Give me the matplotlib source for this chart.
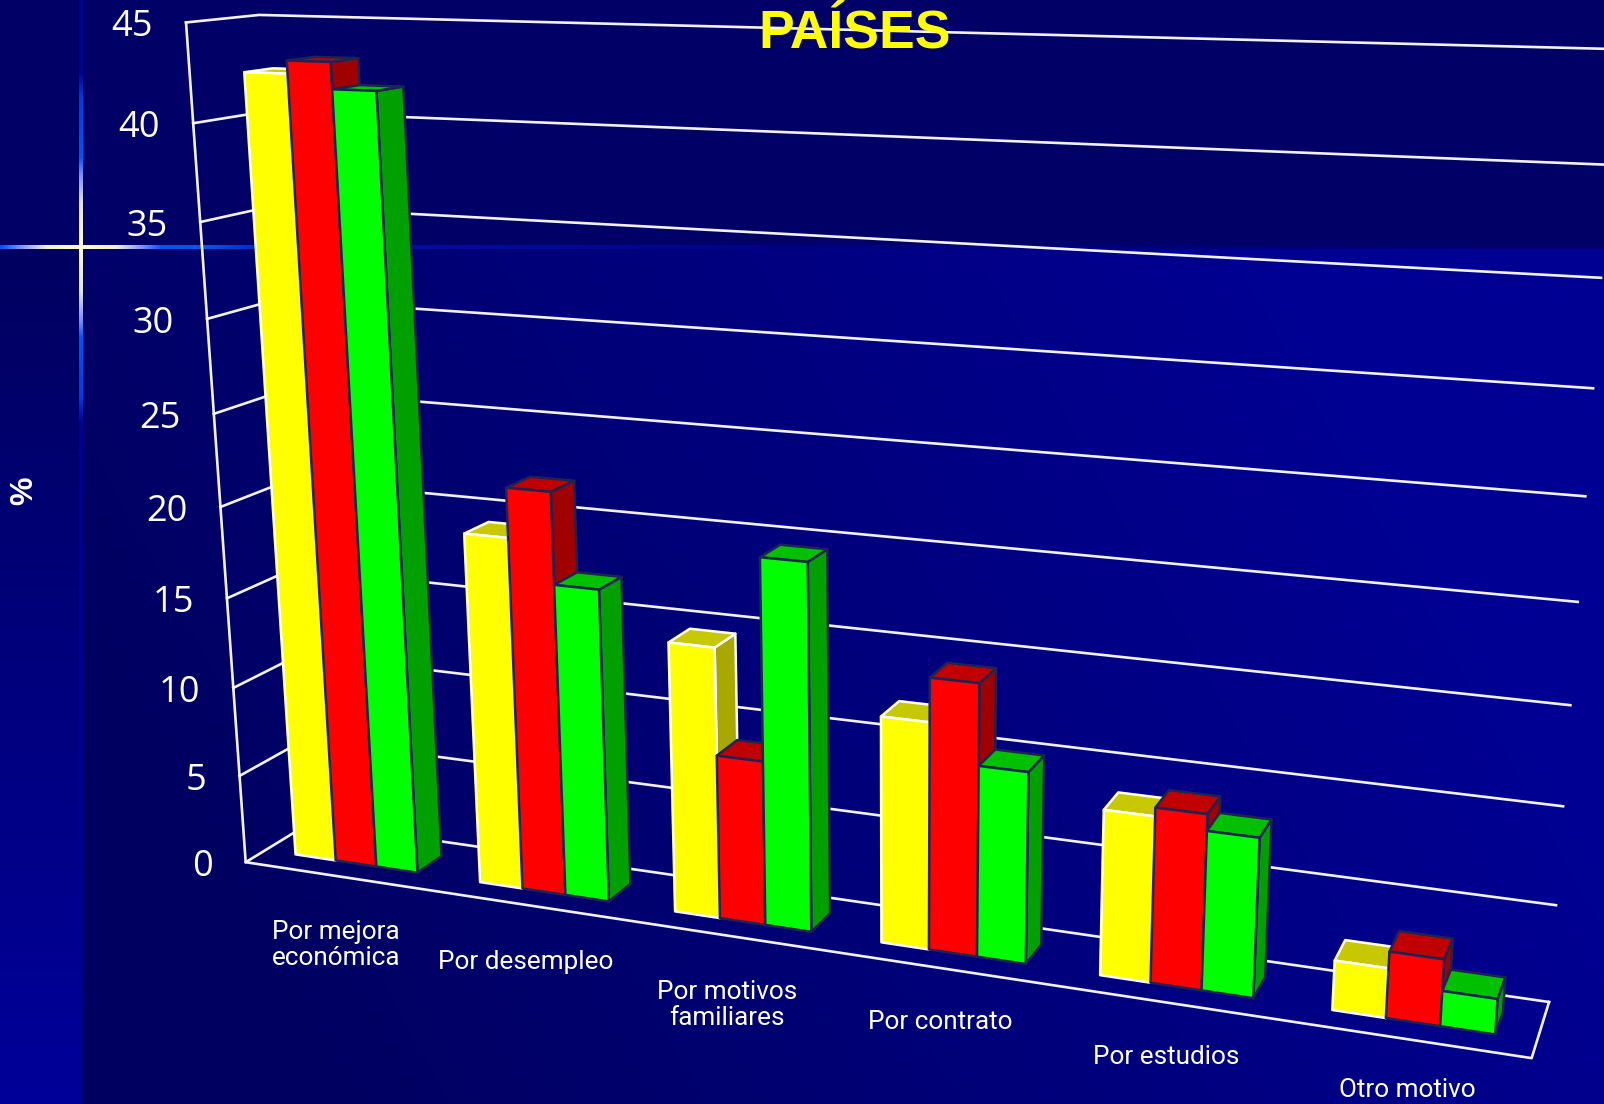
import numpy as np
import matplotlib
matplotlib.use("Agg")
import matplotlib.pyplot as plt
from matplotlib.patches import Polygon

categories = ["Por mejora\neconómica", "Por desempleo", "Por motivos\nfamiliares",
              "Por contrato", "Por estudios", "Otro motivo"]
yellow_vals = [42.45, 19.3, 14.65, 12.05, 8.65, 2.55]
red_vals = [43.1, 21.95, 8.9, 14.35, 9.1, 3.4]
green_vals = [41.75, 17.05, 19.6, 10.1, 8.25, 1.8]
ticks = [0, 5, 10, 15, 20, 25, 30, 35, 40, 45]

# where the box of the 3d chart sits in the picture (x cat, value, depth) -> pixel
front_left_px = [(245, 863), (240, 776), (233, 688), (227, 597), (221, 506),
                 (213, 414), (207, 319), (201, 222), (194, 124), (185, 23)]
back_right_px = [(1548, 1001), (1557, 905), (1564, 806), (1570.5, 706), (1577.5, 603),
                 (1584, 496), (1593, 389), (1601, 279), (1609, 165), (1618, 47)]
label_px = [(336, 945), (526, 962), (727, 1005), (940, 1022), (1166, 1057), (1407, 1090)]


def fit_camera():
    world = []
    img = []
    for t, p in zip(ticks, front_left_px):
        world.append((0, t, 0)); img.append(p)
    for t, p in zip(ticks, back_right_px):
        world.append((6, t, 1)); img.append(p)
    world += [(0, 0, 1), (0, 5, 1), (0, 40, 1), (0, 45, 1), (6, 0, 0)]
    img += [(312, 823), (304, 739), (266, 111), (259, 15), (1532, 1058)]
    rows = []
    for (x, v, z), (u, w) in zip(world, img):
        a = [x / 6, v / 45, z, 1]
        rows.append(a + [0, 0, 0, 0] + [-u / 1000 * c for c in a])
        rows.append([0, 0, 0, 0] + a + [-w / 1000 * c for c in a])
    vt = np.linalg.svd(np.array(rows))[2]
    return vt[-1].reshape(3, 4)


cam = fit_camera()


def pr(x, v, z):
    p = cam @ np.array([x / 6, v / 45, z, 1])
    return (1000 * p[0] / p[2], 1000 * p[1] / p[2])


# background
W, H = 1604, 1104
xx, yy = np.meshgrid(np.arange(W), np.arange(H))
blue = np.clip(106.4 + 0.0353 * xx - 0.0193 * yy, 96, 146)
strip = 0x60 + (yy - 248) * (0x9a - 0x60) / (H - 248)
blue = np.where(xx < 79, strip, blue)
blue = np.where(yy < 249, 0x66, blue)
bg = np.zeros((H, W, 3))
bg[..., 2] = blue / 255


def glow(d, stops):
    ds = [s[0] for s in stops]
    return np.array([np.interp(d, ds, [s[1][i] for s in stops]) for i in range(3)]).T / 255


stops_h = [(0, (255, 255, 205)), (35, (240, 240, 215)), (62, (120, 140, 255)), (80, (0, 85, 240)),
           (125, (0, 85, 240)), (200, (0, 20, 170)), (700, (0, 0, 135)), (1523, (0, 0, 110))]
stops_v = [(0, (255, 255, 205)), (45, (225, 225, 225)), (75, (110, 135, 255)), (90, (0, 85, 240)),
           (150, (0, 60, 220)), (175, (0, 0, 150)), (2000, (0, 0, 145))]
bg[245:249, :] = glow(np.abs(np.arange(W) - 81), stops_h)[None, :, :]
bg[:, 79:83] = glow(np.abs(np.arange(H) - 247), stops_v)[:, None, :]
bg[245:249, 79:83] = (1, 1, 0.85)

fig = plt.figure(figsize=(16.04, 11.04), dpi=100)
ax = fig.add_axes([0, 0, 1, 1])
ax.imshow(bg, extent=(0, W, H, 0), aspect="auto", interpolation="nearest")
ax.set_xlim(0, W)
ax.set_ylim(H, 0)
ax.axis("off")

# walls and floor
lw = 1.9
for t in ticks:
    a = pr(0, t, 0); b = pr(0, t, 1); c = pr(6, t, 1)
    ax.plot([a[0], b[0], c[0]], [a[1], b[1], c[1]], color="white", lw=lw, alpha=0.95)
    ax.text(a[0] - 33, a[1] + 5, str(t), color="white", fontsize=26, family="Open Sans",
            ha="right", va="center")
corners = [pr(0, 45, 0), pr(0, 0, 0), pr(6, 0, 0), pr(6, 0, 1)]
ax.plot([p[0] for p in corners], [p[1] for p in corners], color="white", lw=lw, alpha=0.95)

# bars, left to right so the next one hides the side of the one before
z0, z1 = 0.3, 0.7
bar_w = 1 / 4.5
gap = 0.75 * bar_w
series = [
    (yellow_vals, "#FFFF00", "#A8A800", "#C8C800", "white"),
    (red_vals, "#FF0000", "#A00000", "#C00000", "#1E2452"),
    (green_vals, "#00FF00", "#00A000", "#00C000", "#1E2452"),
]
for i in range(len(categories)):
    for j, (vals, col, side, top, edge) in enumerate(series):
        v = vals[i]
        x0 = i + gap + j * bar_w
        x1 = x0 + bar_w
        faces = [
            ([pr(x1, 0, z0), pr(x1, 0, z1), pr(x1, v, z1), pr(x1, v, z0)], side),
            ([pr(x0, v, z0), pr(x1, v, z0), pr(x1, v, z1), pr(x0, v, z1)], top),
            ([pr(x0, 0, z0), pr(x1, 0, z0), pr(x1, v, z0), pr(x0, v, z0)], col),
        ]
        for pts, c in faces:
            ax.add_patch(Polygon(pts, closed=True, facecolor=c, edgecolor=edge, lw=1.8,
                                 joinstyle="round", zorder=3))

for name, (x, y) in zip(categories, label_px):
    ax.text(x, y, name, color="white", fontsize=18.8, family="Roboto", ha="center",
            va="center", linespacing=1.12, zorder=4)

ax.text(855, 33, "PAÍSES", color="#FFFF00", fontsize=38.5, family="Liberation Sans",
        fontweight="bold", ha="center", va="center", zorder=5)
ax.text(24, 491, "%", color="white", fontsize=23, family="Liberation Sans", fontweight="bold",
        rotation=90, ha="center", va="center")

fig.savefig("out.png", dpi=100)
